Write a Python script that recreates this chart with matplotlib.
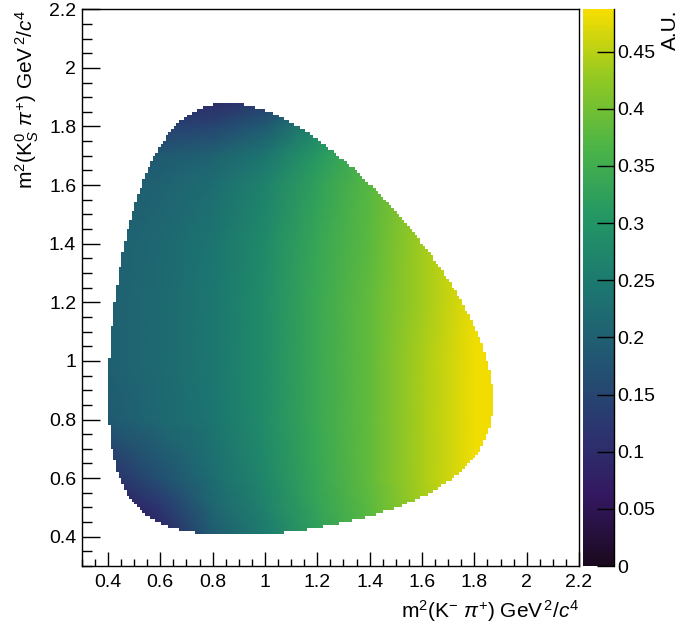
import numpy as np
import matplotlib
matplotlib.use("Agg")
import matplotlib.pyplot as plt
from matplotlib.colors import LinearSegmentedColormap, Normalize
from matplotlib.ticker import MultipleLocator, FuncFormatter

plt.rcParams["font.family"] = ["Liberation Sans", "DejaVu Sans"]
plt.rcParams["mathtext.fontset"] = "custom"
plt.rcParams["mathtext.rm"] = "Liberation Sans"
plt.rcParams["mathtext.it"] = "Liberation Sans:italic"

# D0 -> K- pi+ K0S masses (GeV), used for the Dalitz boundary
M_D0, M_K, M_PI, M_KS = 1.86484, 0.493677, 0.13957, 0.497611

# coarse value table (rows = y, cols = x)
grid_x = [0.4, 0.6, 0.8, 1.0, 1.2, 1.4, 1.6, 1.8, 1.9]
grid_y = [0.4, 0.5, 0.6, 0.8, 1.0, 1.2, 1.4, 1.6, 1.7, 1.8, 1.9]
grid_v = [
    [0.03, 0.08, 0.19, 0.25, 0.32, 0.375, 0.43, 0.475, 0.485],
    [0.06, 0.12, 0.21, 0.265, 0.33, 0.38, 0.435, 0.48, 0.487],
    [0.11, 0.17, 0.225, 0.275, 0.335, 0.385, 0.44, 0.482, 0.487],
    [0.19, 0.215, 0.24, 0.285, 0.34, 0.385, 0.44, 0.482, 0.487],
    [0.20, 0.22, 0.245, 0.285, 0.34, 0.385, 0.44, 0.482, 0.487],
    [0.20, 0.22, 0.245, 0.285, 0.34, 0.385, 0.435, 0.48, 0.487],
    [0.20, 0.215, 0.24, 0.28, 0.335, 0.38, 0.435, 0.48, 0.487],
    [0.19, 0.205, 0.225, 0.265, 0.325, 0.375, 0.43, 0.475, 0.485],
    [0.18, 0.19, 0.205, 0.24, 0.31, 0.365, 0.425, 0.47, 0.48],
    [0.13, 0.14, 0.15, 0.19, 0.27, 0.34, 0.41, 0.46, 0.48],
    [0.06, 0.08, 0.09, 0.12, 0.21, 0.30, 0.38, 0.44, 0.47],
]
Z_MAX = 0.487
N_BINS = 190
LO, HI = 0.3, 2.2

# ROOT kViridis palette
ROOT_VIRIDIS = [(26, 9, 30), (51, 24, 96), (43, 55, 112), (33, 87, 114), (28, 118, 112),
                (35, 150, 101), (74, 180, 72), (144, 200, 35), (246, 222, 0)]


def m23_limits(m12sq):
    m12 = np.sqrt(m12sq)
    e2 = (m12sq - M_K**2 + M_PI**2) / (2 * m12)
    e3 = (M_D0**2 - m12sq - M_KS**2) / (2 * m12)
    p2 = np.sqrt(np.clip(e2**2 - M_PI**2, 0, None))
    p3 = np.sqrt(np.clip(e3**2 - M_KS**2, 0, None))
    return (e2 + e3)**2 - (p2 + p3)**2, (e2 + e3)**2 - (p2 - p3)**2


cmap = LinearSegmentedColormap.from_list("kViridis", [tuple(c / 255 for c in rgb) for rgb in ROOT_VIRIDIS])

fig = plt.figure(figsize=(6.8, 6.28), dpi=100)
ax = fig.add_axes([0.1203, 0.0987, 0.7312, 0.8865])
cax = fig.add_axes([0.857, 0.0987, 0.046, 0.8865])

norm = Normalize(0, Z_MAX)
mesh = ax.pcolormesh(grid_x, grid_y, np.array(grid_v), cmap=cmap, norm=norm,
                     shading="gouraud", rasterized=True, zorder=0.5)

# white out bins outside the kinematic region
edges = np.linspace(LO, HI, N_BINS + 1)
cen = 0.5 * (edges[1:] + edges[:-1])
X, Y = np.meshgrid(cen, cen)
inside = (X > (M_K + M_PI)**2) & (X < (M_D0 - M_KS)**2)
lo, hi = m23_limits(np.where(inside, X, 1.0))
inside &= (Y > lo) & (Y < hi)
mask = np.zeros((N_BINS, N_BINS, 4))
mask[~inside] = [1, 1, 1, 1]
ax.imshow(mask, extent=(LO, HI, LO, HI), origin="lower", interpolation="nearest",
          aspect="auto", zorder=1)

ax.set_xlim(LO, HI)
ax.set_ylim(LO, HI)
fmt = FuncFormatter(lambda v, p: f"{v:g}")
for a in (ax.xaxis, ax.yaxis):
    a.set_major_locator(MultipleLocator(0.2))
    a.set_minor_locator(MultipleLocator(0.05))
    a.set_major_formatter(fmt)
ax.tick_params(which="both", direction="in", top=False, right=False, labelsize=14, width=1)
ax.tick_params(axis="x", which="major", length=10, pad=6)
ax.tick_params(axis="x", which="minor", length=5)
ax.tick_params(axis="y", which="major", length=13, pad=4)
ax.tick_params(axis="y", which="minor", length=7)
for s in ax.spines.values():
    s.set_linewidth(1)
    s.set_zorder(5)

ax.set_xlabel(r"m$^{2}$(K$^{-}$ $\pi^{+}$) GeV$^{\,2}$/$c^{4}$", fontsize=15, loc="right", labelpad=5)
ax.set_ylabel(r"m$^{2}$(K$^{0}_{S}$ $\pi^{+}$) GeV$^{\,2}$/$c^{4}$", fontsize=15, loc="top", labelpad=6)

cbar = fig.colorbar(mesh, cax=cax)
cbar.outline.set_visible(False)
cax.plot([1, 1], [0, 1], transform=cax.transAxes, color="black", lw=1, clip_on=False)
cbar.set_ticks(np.arange(0, 0.46, 0.05))
cbar.ax.yaxis.set_major_formatter(fmt)
cax.tick_params(which="major", direction="in", length=12, width=1, labelsize=14, pad=2)
cax.minorticks_off()
cax.set_ylabel("A.U.", fontsize=15, loc="top", labelpad=4)

fig.savefig("out.png", dpi=100, facecolor="white")
